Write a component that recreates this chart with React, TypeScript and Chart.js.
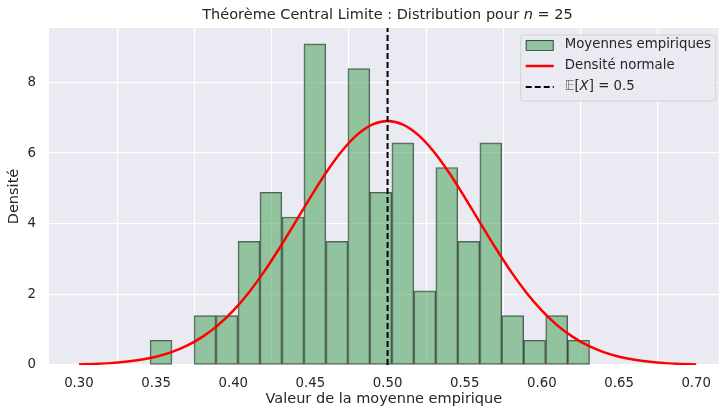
import React, { useEffect, useRef } from "react";
import { Chart, registerables } from "chart.js";

Chart.register(...registerables);

// Histogram: bin centres and densities (20 bins)
const BIN_CENTERS = [
  0.3532, 0.3675, 0.3817, 0.3959, 0.4102, 0.4244, 0.4387, 0.4529, 0.4672, 0.4814,
  0.4956, 0.5099, 0.5241, 0.5384, 0.5526, 0.5669, 0.5811, 0.5953, 0.6096, 0.6238,
];
const DENSITIES = [
  0.70, 0, 1.40, 1.40, 3.50, 4.89, 4.19, 9.09, 3.50, 8.39,
  4.89, 6.29, 2.10, 5.59, 3.50, 6.29, 1.40, 0.70, 1.40, 0.70,
];

// Normal density curve
const CURVE_X = [
  0.30, 0.31, 0.32, 0.33, 0.34, 0.35, 0.36, 0.37, 0.38, 0.39, 0.40,
  0.41, 0.42, 0.43, 0.44, 0.45, 0.46, 0.47, 0.48, 0.49, 0.50,
  0.51, 0.52, 0.53, 0.54, 0.55, 0.56, 0.57, 0.58, 0.59, 0.60,
  0.61, 0.62, 0.63, 0.64, 0.65, 0.66, 0.67, 0.68, 0.69, 0.70,
];
const CURVE_Y = [
  0.017, 0.031, 0.053, 0.090, 0.148, 0.236, 0.364, 0.546, 0.795, 1.123, 1.540,
  2.048, 2.643, 3.311, 4.024, 4.747, 5.434, 6.036, 6.507, 6.807, 6.910,
  6.807, 6.507, 6.036, 5.434, 4.747, 4.024, 3.311, 2.643, 2.048, 1.540,
  1.123, 0.795, 0.546, 0.364, 0.236, 0.148, 0.090, 0.053, 0.031, 0.017,
];

const MEAN = 0.5;
const X_TICKS = [0.3, 0.35, 0.4, 0.45, 0.5, 0.55, 0.6, 0.65, 0.7];
const Y_TICKS = [0, 2, 4, 6, 8];
const X_MIN = 0.2806;
const X_MAX = 0.7146;
const Y_MIN = 0;
const Y_MAX = 9.54;

const TITLE_PRE = "Théorème Central Limite : Distribution pour ";
const TITLE_VAR = "n";
const TITLE_POST = " = 25";
const X_LABEL = "Valeur de la moyenne empirique";
const Y_LABEL = "Densité";
const LEG_HIST = "Moyennes empiriques";
const LEG_CURVE = "Densité normale";

const FONT = "'DejaVu Sans', sans-serif";
const TEXT = "#262626";
const BAR_FILL = "rgba(85,168,104,0.6)";
const BAR_EDGE = "rgba(0,0,0,0.6)";

const bgPlugin = {
  id: "bgPlugin",
  beforeDraw(chart: any) {
    const { ctx, chartArea: a } = chart;
    ctx.save();
    ctx.fillStyle = "#ffffff";
    ctx.fillRect(0, 0, chart.width, chart.height);
    ctx.fillStyle = "#EAEAF2";
    ctx.fillRect(a.left, a.top, a.right - a.left, a.bottom - a.top);
    ctx.restore();
  },
};

const overlayPlugin = {
  id: "overlayPlugin",
  afterDraw(chart: any) {
    const { ctx, chartArea: a } = chart;
    ctx.save();
    // Title
    const f = 14.5;
    ctx.fillStyle = TEXT;
    ctx.textBaseline = "middle";
    ctx.textAlign = "left";
    ctx.font = `${f}px ${FONT}`;
    const w1 = ctx.measureText(TITLE_PRE).width;
    const w3 = ctx.measureText(TITLE_POST).width;
    ctx.font = `italic ${f}px ${FONT}`;
    const w2 = ctx.measureText(TITLE_VAR).width;
    const total = w1 + w2 + w3;
    let x = 387.5 - total / 2;
    const ty = 15;
    ctx.font = `${f}px ${FONT}`;
    ctx.fillText(TITLE_PRE, x, ty);
    x += w1;
    ctx.font = `italic ${f}px ${FONT}`;
    ctx.fillText(TITLE_VAR, x, ty);
    x += w2;
    ctx.font = `${f}px ${FONT}`;
    ctx.fillText(TITLE_POST, x, ty);

    // Legend
    const bw = 195, bh = 66;
    const bx = a.right - 198, by = a.top + 7;
    ctx.beginPath();
    if (ctx.roundRect) ctx.roundRect(bx, by, bw, bh, 3);
    else ctx.rect(bx, by, bw, bh);
    ctx.fillStyle = "rgba(234,234,242,0.8)";
    ctx.fill();
    ctx.strokeStyle = "rgba(204,204,204,0.8)";
    ctx.lineWidth = 1;
    ctx.stroke();

    const hx = bx + 5, hw = 28;
    const r1 = by + 10, r2 = by + 31, r3 = by + 52;
    ctx.fillStyle = BAR_FILL;
    ctx.fillRect(hx, r1 - 5, hw, 10.5);
    ctx.strokeStyle = BAR_EDGE;
    ctx.strokeRect(hx + 0.5, r1 - 4.5, hw - 1, 10);

    ctx.beginPath();
    ctx.strokeStyle = "#ff0000";
    ctx.lineWidth = 2.5;
    ctx.moveTo(hx, r2);
    ctx.lineTo(hx + hw, r2);
    ctx.stroke();

    ctx.beginPath();
    ctx.strokeStyle = "#000000";
    ctx.lineWidth = 2;
    ctx.setLineDash([6, 3]);
    ctx.moveTo(hx, r3);
    ctx.lineTo(hx + hw, r3);
    ctx.stroke();
    ctx.setLineDash([]);

    const lf = 13.3;
    const tx = bx + 44;
    ctx.fillStyle = TEXT;
    ctx.font = `${lf}px ${FONT}`;
    ctx.fillText(LEG_HIST, tx, r1);
    ctx.fillText(LEG_CURVE, tx, r2);
    // E[X] = 0.5
    let ex = tx;
    ctx.fillStyle = "#6a6a6a";
    ctx.fillText("𝔼", ex, r3);
    ex += ctx.measureText("𝔼").width;
    ctx.fillStyle = TEXT;
    ctx.fillText("[", ex, r3);
    ex += ctx.measureText("[").width;
    ctx.font = `italic ${lf}px ${FONT}`;
    ctx.fillText("X", ex, r3);
    ex += ctx.measureText("X").width;
    ctx.font = `${lf}px ${FONT}`;
    ctx.fillText("] = " + MEAN.toFixed(1), ex, r3);
    ctx.restore();
  },
};

export default function App() {
  const ref = useRef<HTMLCanvasElement | null>(null);
  useEffect(() => {
    if (!ref.current) return;
    const chart = new Chart(ref.current, {
      type: "bar",
      data: {
        datasets: [
          {
            type: "bar",
            label: LEG_HIST,
            data: BIN_CENTERS.map((c, i) => ({ x: c, y: DENSITIES[i] })),
            backgroundColor: BAR_FILL,
            borderColor: BAR_EDGE,
            borderWidth: 1,
            borderSkipped: false,
            barPercentage: 1,
            categoryPercentage: 1,
            order: 3,
          } as any,
          {
            type: "line",
            label: LEG_CURVE,
            data: CURVE_X.map((v, i) => ({ x: v, y: CURVE_Y[i] })),
            borderColor: "#ff0000",
            borderWidth: 2.5,
            pointRadius: 0,
            cubicInterpolationMode: "monotone",
            fill: false,
            order: 2,
          } as any,
          {
            type: "line",
            label: "mean",
            data: [
              { x: MEAN, y: Y_MIN },
              { x: MEAN, y: Y_MAX },
            ],
            borderColor: "#000000",
            borderWidth: 2,
            borderDash: [6, 3],
            pointRadius: 0,
            fill: false,
            order: 1,
          } as any,
        ],
      },
      options: {
        animation: false,
        responsive: false,
        devicePixelRatio: 1,
        layout: { padding: { top: 28, left: 0, right: 0, bottom: 0 } },
        plugins: {
          legend: { display: false },
          title: { display: false },
          tooltip: { enabled: false },
        },
        scales: {
          x: {
            type: "linear",
            min: X_MIN,
            max: X_MAX,
            offset: false,
            afterBuildTicks: (s: any) => {
              s.ticks = X_TICKS.map((v) => ({ value: v }));
            },
            afterFit: (s: any) => {
              s.height = 46;
            },
            ticks: {
              color: TEXT,
              font: { family: FONT, size: 13.3 },
              padding: 11,
              maxRotation: 0,
              autoSkip: false,
              callback: (v: any) => Number(v).toFixed(2),
            },
            grid: { color: "#ffffff", lineWidth: 1.2, drawTicks: false },
            border: { display: false },
            title: {
              display: true,
              text: X_LABEL,
              color: TEXT,
              font: { family: FONT, size: 14.5 },
              padding: { top: 0, bottom: 3 },
            },
          },
          y: {
            type: "linear",
            min: Y_MIN,
            max: Y_MAX,
            afterBuildTicks: (s: any) => {
              s.ticks = Y_TICKS.map((v) => ({ value: v }));
            },
            afterFit: (s: any) => {
              s.width = 49;
            },
            ticks: {
              color: TEXT,
              font: { family: FONT, size: 13.3 },
              padding: 13,
              autoSkip: false,
            },
            grid: { color: "#ffffff", lineWidth: 1.2, drawTicks: false },
            border: { display: false },
            title: {
              display: true,
              text: Y_LABEL,
              color: TEXT,
              font: { family: FONT, size: 14.5 },
              padding: { top: 6, bottom: 0 },
            },
          },
        },
      } as any,
      plugins: [bgPlugin, overlayPlugin],
    });
    return () => chart.destroy();
  }, []);
  return (
    <div style={{ position: "fixed", left: 0, top: 0, width: 722, height: 411, overflow: "hidden", background: "#fff" }}>
      <canvas ref={ref} width={722} height={411} style={{ width: 722, height: 411, display: "block" }} />
    </div>
  );
}
